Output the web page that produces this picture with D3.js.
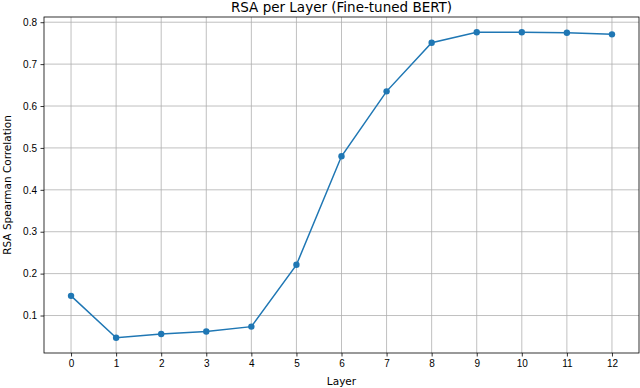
<!DOCTYPE html>
<html>
<head>
<meta charset="utf-8">
<script src="https://cdn.jsdelivr.net/npm/d3@7"></script>
<style>
  body { margin: 0; background: #fff; }
  svg { font-family: 'DejaVu Sans', sans-serif; }
  .grid line { stroke: #b0b0b0; stroke-width: 0.8; }
  .axis path, .axis line { stroke: #000; stroke-width: 0.8; }
  .axis text { fill: #000; font-size: 10px; }
</style>
</head>
<body>
<svg id="chart" width="640" height="388"></svg>
<script>
// Data
const layers = [0, 1, 2, 3, 4, 5, 6, 7, 8, 9, 10, 11, 12]
const rsaValues = [0.147, 0.047, 0.056, 0.062, 0.0735, 0.221, 0.48, 0.635, 0.751, 0.776, 0.776, 0.775, 0.771]
const yTicks = [0.1, 0.2, 0.3, 0.4, 0.5, 0.6, 0.7, 0.8]

const margin = { top: 17, right: 1, bottom: 35, left: 44 }
const width = 640
const height = 388
const innerWidth = width - margin.left - margin.right
const innerHeight = height - margin.top - margin.bottom

const svg = d3.select('#chart')
const g = svg.append('g')
  .attr('transform', `translate(${margin.left}, ${margin.top})`)

// matplotlib style 5% padding on both axes
const xPad = (d3.max(layers) - d3.min(layers)) * 0.05
const xScale = d3.scaleLinear()
  .domain([d3.min(layers) - xPad, d3.max(layers) + xPad])
  .range([0, innerWidth])
const yMin = d3.min(rsaValues)
const yMax = d3.max(rsaValues)
const yPad = (yMax - yMin) * 0.05
const yScale = d3.scaleLinear()
  .domain([yMin - yPad, yMax + yPad])
  .range([innerHeight, 0])

// grid
g.append('g')
  .attr('class', 'grid')
  .selectAll('line.vx')
  .data(layers)
  .enter()
  .append('line')
  .attr('x1', d => xScale(d))
  .attr('x2', d => xScale(d))
  .attr('y1', 0)
  .attr('y2', innerHeight)
g.append('g')
  .attr('class', 'grid')
  .selectAll('line.hy')
  .data(yTicks)
  .enter()
  .append('line')
  .attr('x1', 0)
  .attr('x2', innerWidth)
  .attr('y1', d => yScale(d))
  .attr('y2', d => yScale(d))

// line + markers
const line = d3.line()
  .x((d, i) => xScale(layers[i]))
  .y(d => yScale(d))
g.append('path')
  .datum(rsaValues)
  .attr('d', line)
  .attr('fill', 'none')
  .attr('stroke', '#1f77b4')
  .attr('stroke-width', 1.5)
g.selectAll('circle')
  .data(rsaValues)
  .enter()
  .append('circle')
  .attr('cx', (d, i) => xScale(layers[i]))
  .attr('cy', d => yScale(d))
  .attr('r', 3.2)
  .attr('fill', '#1f77b4')

// frame
g.append('rect')
  .attr('width', innerWidth)
  .attr('height', innerHeight)
  .attr('fill', 'none')
  .attr('stroke', '#000')
  .attr('stroke-width', 0.8)

// axes
const xAxis = d3.axisBottom(xScale).tickValues(layers).tickSize(3.5).tickPadding(3.5).tickFormat(d3.format('d'))
const yAxis = d3.axisLeft(yScale).tickValues(yTicks).tickSize(3.5).tickPadding(3.5).tickFormat(d3.format('.1f'))
g.append('g')
  .attr('class', 'x axis')
  .attr('transform', `translate(0, ${innerHeight})`)
  .call(xAxis)
  .call(s => s.select('.domain').remove())
g.append('g')
  .attr('class', 'y axis')
  .call(yAxis)
  .call(s => s.select('.domain').remove())

// labels
svg.append('text')
  .text('RSA per Layer (Fine-tuned BERT)')
  .attr('x', margin.left + innerWidth / 2)
  .attr('y', 12)
  .attr('text-anchor', 'middle')
  .style('font-size', '13.5px')
svg.append('text')
  .text('Layer')
  .attr('x', margin.left + innerWidth / 2)
  .attr('y', 385)
  .attr('text-anchor', 'middle')
  .style('font-size', '10.5px')
svg.append('text')
  .text('RSA Spearman Correlation')
  .attr('transform', `translate(11, ${margin.top + innerHeight / 2}) rotate(-90)`)
  .attr('text-anchor', 'middle')
  .style('font-size', '10.5px')
</script>
</body>
</html>
